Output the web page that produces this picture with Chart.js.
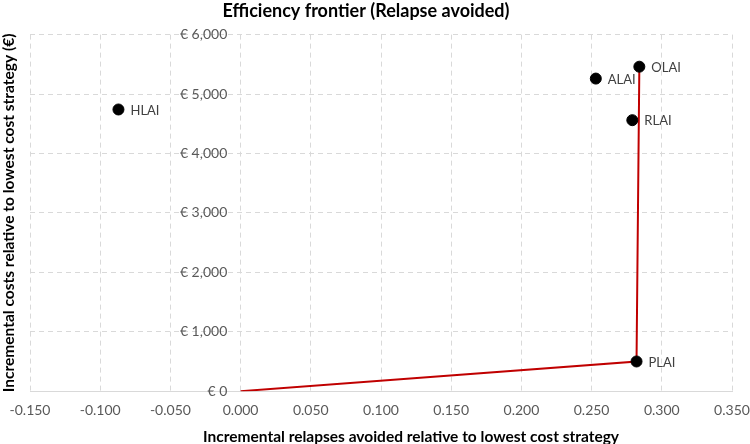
<!DOCTYPE html>
<html>
<head>
<meta charset="utf-8">
<script src="https://cdn.jsdelivr.net/npm/chart.js@4.4.0/dist/chart.umd.min.js"></script>
<style>
  html, body { margin: 0; padding: 0; background: #ffffff; }
  #wrap { width: 750px; height: 444px; }
</style>
</head>
<body>
<div id="wrap"><canvas id="chart" width="750" height="444"></canvas></div>
<script>
// strategies
const strategyNames = ['HLAI', 'ALAI', 'OLAI', 'RLAI', 'PLAI'];
const relapsesAvoided = [-0.087, 0.253, 0.284, 0.279, 0.282];
const incrementalCosts = [4740, 5260, 5460, 4560, 500];

// efficiency frontier: lowest cost strategy (origin) -> PLAI -> OLAI
const frontierNames = ['PLAI', 'OLAI'];

const xTicks = [-0.15, -0.1, -0.05, 0, 0.05, 0.1, 0.15, 0.2, 0.25, 0.3, 0.35];
const yTicks = [0, 1000, 2000, 3000, 4000, 5000, 6000];

const xTitle = 'Incremental relapses avoided relative to lowest cost strategy';

const FONT = 'Lato, "Open Sans", sans-serif';
const gridColor = '#d9d9d9';
const tickColor = '#595959';

const points = strategyNames.map((name, i) => ({ x: relapsesAvoided[i], y: incrementalCosts[i] }));
const frontier = [{ x: 0, y: 0 }].concat(frontierNames.map((name) => {
    const i = strategyNames.indexOf(name);
    return { x: relapsesAvoided[i], y: incrementalCosts[i] };
}));

const pointLabels = {
    id: 'pointLabels',
    afterDatasetsDraw(chart) {
        const ctx = chart.ctx;
        const meta = chart.getDatasetMeta(0);
        ctx.save();
        ctx.font = '13px ' + FONT;
        ctx.fillStyle = '#404040';
        ctx.textAlign = 'left';
        ctx.textBaseline = 'middle';
        meta.data.forEach((el, i) => {
            ctx.fillText(strategyNames[i], el.x + 12, el.y + 1);
        });
        ctx.restore();
    }
};

// x axis title sits a little right of the plot centre in the original
const xAxisTitle = {
    id: 'xAxisTitle',
    afterDraw(chart) {
        const ctx = chart.ctx;
        const area = chart.chartArea;
        ctx.save();
        ctx.font = 'bold 15.5px ' + FONT;
        ctx.fillStyle = '#000000';
        ctx.textAlign = 'center';
        ctx.textBaseline = 'middle';
        ctx.fillText(xTitle, (area.left + area.right) / 2 + 30, chart.height - 7);
        ctx.restore();
    }
};

new Chart(document.getElementById('chart'), {
    type: 'scatter',
    data: {
        datasets: [{
            label: 'Strategies',
            data: points,
            backgroundColor: '#000000',
            borderColor: '#000000',
            pointRadius: 5.5,
            pointHoverRadius: 5.5
        }, {
            label: 'Frontier',
            data: frontier,
            showLine: true,
            borderColor: '#c00000',
            borderWidth: 2,
            pointRadius: 0,
            pointHoverRadius: 0,
            fill: false
        }]
    },
    options: {
        responsive: false,
        animation: false,
        layout: { padding: { left: 0, right: 18, top: 0, bottom: 14 } },
        plugins: {
            legend: { display: false },
            tooltip: { enabled: false },
            title: {
                display: true,
                text: 'Efficiency frontier (Relapse avoided)',
                color: '#000000',
                font: { family: FONT, size: 18, weight: 'bold' },
                padding: { top: 0, bottom: 13 }
            }
        },
        scales: {
            x: {
                type: 'linear',
                min: -0.15,
                max: 0.35,
                afterBuildTicks: (scale) => { scale.ticks = xTicks.map((v) => ({ value: v })); },
                afterFit: (scale) => { scale.paddingLeft = 0; scale.paddingRight = 0; },
                ticks: {
                    color: tickColor,
                    font: { family: FONT, size: 14 },
                    padding: 11,
                    maxRotation: 0,
                    callback: (v) => Number(v).toFixed(3)
                },
                grid: { color: gridColor, drawTicks: false },
                border: { display: true, color: gridColor, width: 1, dash: [5, 4] }
            },
            y: {
                type: 'linear',
                position: 'left',
                min: 0,
                max: 6000,
                afterBuildTicks: (scale) => { scale.ticks = yTicks.map((v) => ({ value: v })); },
                afterFit: (scale) => { scale.width = 30; },
                ticks: { display: false },
                grid: { color: gridColor, drawTicks: false },
                border: { display: false, dash: [5, 4] },
                title: {
                    display: true,
                    text: 'Incremental costs relative to lowest cost strategy (€)',
                    color: '#000000',
                    font: { family: FONT, size: 15.5, weight: 'bold' },
                    padding: { top: 0, bottom: 4 }
                }
            },
            yLabels: {
                type: 'linear',
                // labels hang just left of the x = 0 line
                position: { x: -0.0095 },
                min: 0,
                max: 6000,
                afterBuildTicks: (scale) => { scale.ticks = yTicks.map((v) => ({ value: v })); },
                ticks: {
                    color: tickColor,
                    font: { family: FONT, size: 14 },
                    callback: (v) => '€ ' + Number(v).toLocaleString('en-US')
                },
                grid: { display: false, drawTicks: false },
                border: { display: false }
            }
        }
    },
    plugins: [pointLabels, xAxisTitle]
});
</script>
</body>
</html>
